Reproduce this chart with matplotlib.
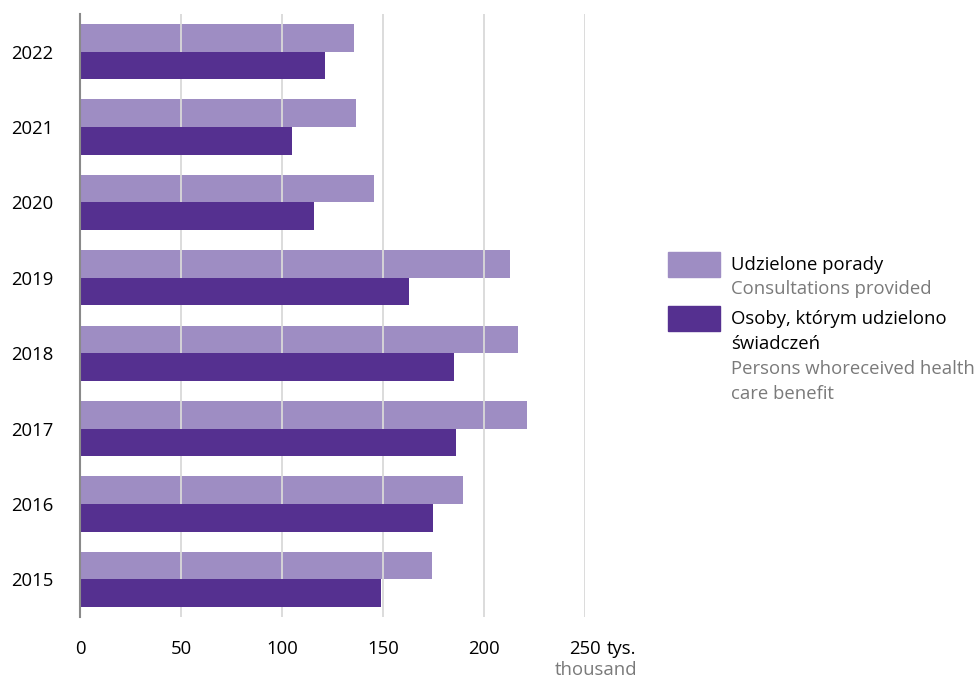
import numpy as np
import matplotlib.pyplot as plt
from matplotlib.patches import Rectangle

plt.rcParams['font.family'] = ['Open Sans', 'DejaVu Sans']

# data (thousands)
years = ['2015', '2016', '2017', '2018', '2019', '2020', '2021', '2022']
consultations = [174.5, 189.8, 221.5, 217.0, 213.0, 145.3, 136.8, 135.8]
persons = [148.8, 174.6, 186.3, 185.2, 163.1, 116.0, 105.1, 121.3]
xticks = [0, 50, 100, 150, 200, 250]

light = '#9e8dc3'
dark = '#553090'
grey = '#7a7a7a'
fs = 13.3

fig = plt.figure(figsize=(9.79, 6.79), dpi=100)
ax = fig.add_axes([80 / 979, 1 - 617 / 679, 505 / 979, 603 / 679])

y = np.arange(len(years))
h = 0.367
ax.barh(y + h / 2, consultations, height=h, color=light, zorder=1)
ax.barh(y - h / 2, persons, height=h, color=dark, zorder=3)

# grid shows through the light bars only
for t in xticks[1:]:
    ax.axvline(t, color='#d9d9d9', lw=1.3, zorder=2)

ax.set_xlim(0, 250)
ax.set_ylim(-0.5, 7.5)
ax.set_yticks(y)
ax.set_yticklabels(years, fontsize=fs)
ax.set_xticks(xticks)
ax.set_xticklabels([str(t) for t in xticks], fontsize=fs)
ax.tick_params(axis='both', length=0)
ax.tick_params(axis='y', pad=19)
ax.tick_params(axis='x', pad=16.5)

for s in ['top', 'right', 'bottom']:
    ax.spines[s].set_visible(False)
ax.spines['left'].set_color('#8a8a8a')
ax.spines['left'].set_linewidth(1.5)
ax.spines['left'].set_zorder(4)

# unit labels next to the last tick
fig.canvas.draw()
bb = ax.get_xticklabels()[-1].get_window_extent()
fig.text((bb.x1 + 6) / 979, (bb.y0 + bb.y1) / 2 / 679, 'tys.', fontsize=fs,
         ha='left', va='center')
fig.text(637 / 979, 1 - 670 / 679, 'thousand', fontsize=fs, va='center', ha='right', color=grey)

# legend
def box(y0, y1, c):
    fig.patches.append(Rectangle((668 / 979, 1 - y1 / 679), 52 / 979, (y1 - y0) / 679,
                                 transform=fig.transFigure, color=c))

box(252, 277, light)
box(306, 331, dark)
tx = 731 / 979
fig.text(tx, 1 - 265 / 679, 'Udzielone porady', fontsize=fs, va='center')
fig.text(tx, 1 - 289 / 679, 'Consultations provided', fontsize=fs, va='center', color=grey)
fig.text(tx, 1 - 319 / 679, 'Osoby, którym udzielono', fontsize=fs, va='center')
fig.text(tx, 1 - 344 / 679, 'świadczeń', fontsize=fs, va='center')
fig.text(tx, 1 - 369 / 679, 'Persons whoreceived health', fontsize=fs, va='center', color=grey)
fig.text(tx, 1 - 394 / 679, 'care benefit', fontsize=fs, va='center', color=grey)

fig.savefig('out.png', dpi=100)
